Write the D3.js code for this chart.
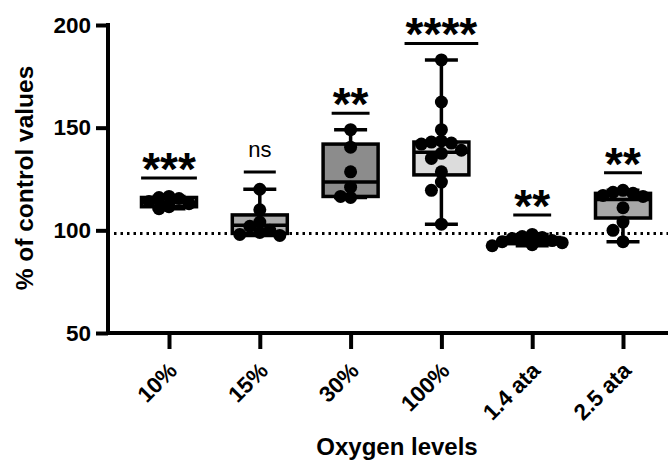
<!DOCTYPE html>
<html><head><meta charset="utf-8">
<script src="https://cdn.jsdelivr.net/npm/d3@7"></script>
<style>body{margin:0;background:#fff}svg{display:block}text{font-family:"Liberation Sans",Arial,sans-serif}</style>
</head><body><div id="chart"></div>
<script>
const categories = ["10%", "15%", "30%", "100%", "1.4 ata", "2.5 ata"];
const pts10 = [116.5, 116, 115.5, 114, 113, 111.5, 110.5];
const pts15 = [120, 110, 104, 102, 100, 99, 98, 97.5];
const pts30 = [149, 140.5, 128.5, 121, 116.5, 116];
const pts100 = [183, 162.5, 149, 143.5, 143, 142.5, 142, 139, 137.5, 135, 128.5, 123.5, 119.5, 103];
const pts14ata = [98, 97, 96.5, 96, 95, 94.5, 94, 93, 92.5];
const pts25ata = [119.5, 118.5, 118, 117, 116.5, 111, 104, 100, 94.5];
const boxMin = [110.5, 97.5, 116, 103, 92.5, 94.5];
const boxQ1 = [111.5, 98.5, 116.5, 127, 93.5, 106];
const boxMedian = [113.5, 102.5, 123.5, 138, 95, 115];
const boxQ3 = [116, 107.5, 142, 143, 96.5, 118];
const boxMax = [116.5, 120, 149, 183, 98, 119.5];
const boxFill = ["#9a9a9a", "#ababab", "#8c8c8c", "#dcdcdc", "#7a7a7a", "#a8a8a8"];
const sigLabels = ["***", "ns", "**", "****", "**", "**"];
const sigLevels = [125.5, 128.4, 157, 191, 107.5, 128];
const refValue = 98.5;
const yTicks = [50, 100, 150, 200];

const groups = [pts10, pts15, pts30, pts100, pts14ata, pts25ata];
const W = 670, H = 461;
const svg = d3.select("#chart").append("svg").attr("width", W).attr("height", H);

const y = d3.scaleLinear().domain([50, 200]).range([333, 25]);
const x = d3.scalePoint().domain(categories).range([169, 623]);
const axisLeftX = 108, axisRightX = 668, baseY = 333;
const boxW = 55, capW = 33, r = 6.5;

// reference dotted line
svg.append("line").attr("x1", axisLeftX + 6).attr("x2", axisRightX)
  .attr("y1", y(refValue)).attr("y2", y(refValue))
  .attr("stroke", "#000").attr("stroke-width", 3).attr("stroke-dasharray", "2.5,4").attr("stroke-linecap", "butt");

// boxes
categories.forEach((c, i) => {
  const cx = x(c);
  const g = svg.append("g");
  g.append("line").attr("x1", cx).attr("x2", cx).attr("y1", y(boxMax[i])).attr("y2", y(boxMin[i]))
    .attr("stroke", "#000").attr("stroke-width", 3.5);
  [boxMax[i], boxMin[i]].forEach(v => g.append("line").attr("x1", cx - capW / 2).attr("x2", cx + capW / 2)
    .attr("y1", y(v)).attr("y2", y(v)).attr("stroke", "#000").attr("stroke-width", 3.5));
  g.append("rect").attr("x", cx - boxW / 2).attr("width", boxW)
    .attr("y", y(boxQ3[i])).attr("height", y(boxQ1[i]) - y(boxQ3[i]))
    .attr("fill", boxFill[i]).attr("stroke", "#000").attr("stroke-width", 3.5);
  g.append("line").attr("x1", cx - boxW / 2).attr("x2", cx + boxW / 2)
    .attr("y1", y(boxMedian[i])).attr("y2", y(boxMedian[i])).attr("stroke", "#000").attr("stroke-width", 3.5);
});

// points (simple swarm)
categories.forEach((c, i) => {
  const cx = x(c);
  const placed = [];
  const sorted = groups[i].slice().sort((a, b) => b - a);
  sorted.forEach(v => {
    const py = y(v);
    const cands = [0];
    for (let k = 1; k < 8; k++) { cands.push(-k * 10, k * 10); }
    let px = cx;
    for (const o of cands) {
      const ok = placed.every(p => Math.hypot(p[0] - (cx + o), p[1] - py) >= 2 * r * 0.72);
      if (ok) { px = cx + o; break; }
    }
    placed.push([px, py]);
  });
  svg.append("g").selectAll("circle").data(placed).join("circle")
    .attr("cx", d => d[0]).attr("cy", d => d[1]).attr("r", r).attr("fill", "#000");
});

// significance annotations
categories.forEach((c, i) => {
  const cx = x(c);
  const ly = y(sigLevels[i]);
  const lab = sigLabels[i];
  let t;
  if (lab === "ns") {
    t = svg.append("text").attr("x", cx).attr("y", ly - 15).attr("text-anchor", "middle")
      .attr("font-size", 22).attr("fill", "#000").text(lab);
  } else {
    t = svg.append("text").attr("x", cx).attr("y", ly + 7).attr("text-anchor", "middle")
      .attr("font-size", 46).attr("font-weight", "bold").attr("fill", "#000").text(lab);
  }
  const bb = t.node().getBBox();
  const lw = lab === "ns" ? 32 : bb.width + 2;
  svg.append("line").attr("x1", cx - lw / 2).attr("x2", cx + lw / 2).attr("y1", ly).attr("y2", ly)
    .attr("stroke", "#000").attr("stroke-width", 3);
});

// axes
const yAxis = d3.axisLeft(y).tickValues(yTicks).tickSize(12).tickPadding(5);
const gy = svg.append("g").attr("transform", `translate(${axisLeftX},0)`).call(yAxis);
gy.select(".domain").remove();
gy.selectAll(".tick line").attr("stroke", "#000").attr("stroke-width", 4);
gy.selectAll(".tick text").attr("font-size", 22.5).attr("font-weight", "bold").attr("fill", "#000")
  .attr("font-family", "Liberation Sans, Arial, sans-serif");

const xAxis = d3.axisBottom(x).tickSize(16).tickPadding(0);
const gx = svg.append("g").attr("transform", `translate(0,${baseY})`).call(xAxis);
gx.select(".domain").remove();
gx.selectAll(".tick line").attr("stroke", "#000").attr("stroke-width", 4);
gx.selectAll(".tick text").attr("font-size", 22.5).attr("font-weight", "bold").attr("fill", "#000")
  .attr("font-family", "Liberation Sans, Arial, sans-serif")
  .attr("text-anchor", "end").attr("dy", null).attr("y", null)
  .attr("transform", "translate(9,39) rotate(-45)");

svg.append("line").attr("x1", axisLeftX).attr("x2", axisLeftX).attr("y1", 23).attr("y2", baseY + 2)
  .attr("stroke", "#000").attr("stroke-width", 4);
svg.append("line").attr("x1", axisLeftX - 2).attr("x2", axisRightX).attr("y1", baseY).attr("y2", baseY)
  .attr("stroke", "#000").attr("stroke-width", 4);

// titles
svg.append("text").attr("transform", `translate(33,${178}) rotate(-90)`)
  .attr("text-anchor", "middle").attr("font-size", 24.5).attr("font-weight", "bold").attr("fill", "#000")
  .text("% of control values");
svg.append("text").attr("x", 397).attr("y", 455).attr("text-anchor", "middle")
  .attr("font-size", 24).attr("font-weight", "bold").attr("fill", "#000")
  .text("Oxygen levels");
</script></body></html>
